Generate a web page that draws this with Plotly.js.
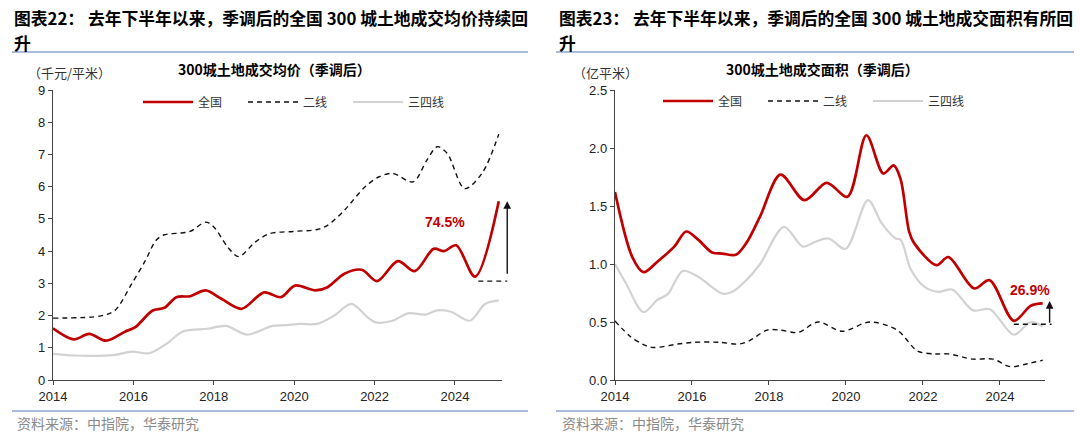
<!DOCTYPE html>
<html>
<head>
<meta charset="utf-8">
<script src="https://cdn.plot.ly/plotly-3.0.1.min.js"></script>
<style>
  html, body { margin: 0; padding: 0; background: #ffffff; }
  #chart { width: 1080px; height: 437px; }
</style>
</head>
<body>
<div id="chart"></div>
<script>
// ---------- Left panel: 300城土地成交均价（千元/平米） ----------
const priceNationalT = [2014.0, 2014.51, 2014.9, 2015.32, 2015.79, 2016.05, 2016.47, 2016.77, 2017.07, 2017.41, 2017.8, 2018.18, 2018.69, 2019.25, 2019.67, 2020.02, 2020.53, 2020.83, 2021.25, 2021.68, 2022.06, 2022.58, 2023.0, 2023.47, 2023.73, 2024.03, 2024.5, 2025.09];
const priceNational  = [1.6, 1.26, 1.43, 1.22, 1.5, 1.64, 2.15, 2.24, 2.57, 2.6, 2.78, 2.53, 2.21, 2.72, 2.57, 2.93, 2.78, 2.88, 3.3, 3.42, 3.07, 3.69, 3.38, 4.07, 4.0, 4.18, 3.21, 5.55];

const priceTier2T = [2014.0, 2015.19, 2015.54, 2015.96, 2016.3, 2016.56, 2016.75, 2017.16, 2017.41, 2017.8, 2018.0, 2018.35, 2018.62, 2019.03, 2019.38, 2019.97, 2020.57, 2020.83, 2021.25, 2021.76, 2022.1, 2022.45, 2022.96, 2023.3, 2023.56, 2023.81, 2024.24, 2024.67, 2025.09];
const priceTier2  = [1.92, 1.99, 2.16, 2.99, 3.71, 4.33, 4.5, 4.56, 4.61, 4.9, 4.75, 4.12, 3.83, 4.28, 4.54, 4.61, 4.67, 4.8, 5.27, 5.99, 6.3, 6.41, 6.15, 6.82, 7.24, 7.03, 5.94, 6.41, 7.63];

const priceTier34T = [2014.0, 2014.51, 2015.54, 2015.96, 2016.39, 2016.82, 2017.24, 2017.84, 2018.31, 2018.82, 2019.46, 2019.8, 2020.14, 2020.57, 2021.0, 2021.42, 2021.85, 2022.02, 2022.45, 2022.83, 2023.26, 2023.56, 2023.9, 2024.37, 2024.75, 2025.09];
const priceTier34  = [0.81, 0.76, 0.78, 0.88, 0.83, 1.12, 1.51, 1.59, 1.68, 1.41, 1.68, 1.7, 1.74, 1.74, 2.0, 2.36, 1.92, 1.79, 1.84, 2.07, 2.03, 2.16, 2.12, 1.84, 2.36, 2.47];

const priceRefLine = {t: [2024.58, 2025.3], v: [3.07, 3.07]};
const priceArrow = {t: 2025.3, from: 3.25, to: 5.55};
const priceLabel = {t: 2023.74, v: 4.9, text: "74.5%"};

// ---------- Right panel: 300城土地成交面积（亿平米） ----------
const areaNationalT = [2014.0, 2014.45, 2014.74, 2015.1, 2015.54, 2015.85, 2016.16, 2016.52, 2016.79, 2017.14, 2017.41, 2017.77, 2018.3, 2018.92, 2019.5, 2020.04, 2020.53, 2020.97, 2021.24, 2021.42, 2021.64, 2021.77, 2022.35, 2022.66, 2023.33, 2023.73, 2024.36, 2024.8, 2025.11];
const areaNational  = [1.62, 1.06, 0.93, 1.02, 1.15, 1.28, 1.21, 1.10, 1.09, 1.08, 1.18, 1.41, 1.77, 1.55, 1.70, 1.58, 2.11, 1.78, 1.85, 1.73, 1.28, 1.18, 0.99, 1.06, 0.79, 0.86, 0.51, 0.64, 0.66];

const areaTier2T = [2014.0, 2014.38, 2014.74, 2015.0, 2015.63, 2016.07, 2016.7, 2017.23, 2017.5, 2017.95, 2018.3, 2018.75, 2019.28, 2019.9, 2020.62, 2021.33, 2021.86, 2022.31, 2022.66, 2023.29, 2023.82, 2024.27, 2024.71, 2025.11];
const areaTier2  = [0.51, 0.38, 0.305, 0.28, 0.31, 0.325, 0.325, 0.31, 0.34, 0.43, 0.43, 0.41, 0.50, 0.42, 0.50, 0.43, 0.25, 0.225, 0.225, 0.18, 0.18, 0.115, 0.14, 0.17];

const areaTier34T = [2014.0, 2014.29, 2014.74, 2015.1, 2015.37, 2015.76, 2016.16, 2016.79, 2017.05, 2017.41, 2017.77, 2018.39, 2018.88, 2019.19, 2019.55, 2019.99, 2020.57, 2020.93, 2021.29, 2021.42, 2021.69, 2022.05, 2022.4, 2022.76, 2023.3, 2023.74, 2024.36, 2024.8, 2025.11];
const areaTier34  = [1.0, 0.83, 0.585, 0.69, 0.74, 0.94, 0.89, 0.745, 0.76, 0.86, 1.0, 1.32, 1.15, 1.19, 1.22, 1.13, 1.55, 1.35, 1.22, 1.21, 0.95, 0.80, 0.76, 0.78, 0.60, 0.61, 0.39, 0.50, 0.46];

const areaRefLine = {t: [2024.36, 2025.34], v: [0.48, 0.48]};
const areaArrow = {t: 2025.29, from: 0.48, to: 0.68};
const areaLabel = {t: 2024.78, v: 0.78, text: "26.9%"};

// ---------- Axis / text ----------
const xTickVals = [2014, 2016, 2018, 2020, 2022, 2024];
const xTickText = ["2014", "2016", "2018", "2020", "2022", "2024"];
const xRange = [2014, 2025.17];
const seriesNames = ["全国", "二线", "三四线"];

// ---------- Styling ----------
const W = 1080, H = 437;
const RED = "#C00000", BLACK = "#111111", GRAY = "#D2D2D2", RULE = "#8DA6CE";
const CJK = "'Noto Sans CJK SC', 'Noto Sans', sans-serif";
const NUM = "'Liberation Sans', Arial, sans-serif";

const plotTop = 90, plotBottom = 380;
const L = {x0: 53, x1: 502, ext: 520};
const R = {x0: 615, x1: 1045, ext: 1062};
const px2fx = p => p / W;
const px2fy = p => 1 - p / H;
const yDom = [px2fy(plotBottom), px2fy(plotTop)];
function extRange(P) {
  const span = xRange[1] - xRange[0];
  return [xRange[0], xRange[0] + span * (P.ext - P.x0) / (P.x1 - P.x0)];
}

function lineTrace(x, y, name, style, xa, ya, legend, showlegend) {
  return {
    type: "scatter", mode: "lines", x: x, y: y, name: name,
    line: Object.assign({shape: "spline", smoothing: 0.9}, style),
    xaxis: xa, yaxis: ya, legend: legend, showlegend: showlegend,
    hoverinfo: "skip"
  };
}
const sRed = {color: RED, width: 2.7};
const sDash = {color: BLACK, width: 1.4, dash: "5px,4px"};
const sGray = {color: GRAY, width: 2.2};

const traces = [
  lineTrace(priceNationalT, priceNational, seriesNames[0], sRed, "x", "y", "legend", true),
  lineTrace(priceTier2T, priceTier2, seriesNames[1], sDash, "x", "y", "legend", true),
  lineTrace(priceTier34T, priceTier34, seriesNames[2], sGray, "x", "y", "legend", true),
  lineTrace(areaNationalT, areaNational, seriesNames[0], sRed, "x2", "y2", "legend2", true),
  lineTrace(areaTier2T, areaTier2, seriesNames[1], sDash, "x2", "y2", "legend2", true),
  lineTrace(areaTier34T, areaTier34, seriesNames[2], sGray, "x2", "y2", "legend2", true),
  {type: "scatter", mode: "lines", x: priceRefLine.t, y: priceRefLine.v, xaxis: "x3", yaxis: "y",
   line: {color: BLACK, width: 1.4, dash: "5px,4px"}, showlegend: false, hoverinfo: "skip"},
  {type: "scatter", mode: "lines", x: areaRefLine.t, y: areaRefLine.v, xaxis: "x4", yaxis: "y2",
   line: {color: BLACK, width: 1.4, dash: "5px,4px"}, showlegend: false, hoverinfo: "skip"}
];

function xAxis(P, anchor) {
  return {
    domain: [px2fx(P.x0), px2fx(P.x1)], range: xRange, anchor: anchor,
    tickmode: "array", tickvals: xTickVals, ticktext: xTickText,
    showline: true, linecolor: "#444", linewidth: 1.2,
    ticks: "outside", ticklen: 4, tickcolor: "#444",
    showgrid: false, zeroline: false, automargin: false,
    tickfont: {family: NUM, size: 13, color: "#222"}
  };
}
function yAxis(anchor, range, dtick, fmt) {
  return {
    domain: yDom, range: range, anchor: anchor, dtick: dtick, tick0: 0, tickformat: fmt,
    showline: true, linecolor: "#444", linewidth: 1.2,
    ticks: "outside", ticklen: 4, tickcolor: "#444",
    showgrid: false, zeroline: false, automargin: false,
    tickfont: {family: NUM, size: 13, color: "#222"}
  };
}
function extAxis(P, anchor) {
  return {domain: [px2fx(P.x0), px2fx(P.ext)], range: extRange(P), anchor: anchor,
          visible: false, showgrid: false, zeroline: false, fixedrange: true};
}

function txt(x, y, text, size, opts) {
  return Object.assign({
    xref: "paper", yref: "paper", x: px2fx(x), y: px2fy(y), text: text,
    showarrow: false, xanchor: "left", yanchor: "middle",
    font: {family: CJK, size: size, color: "#000"}
  }, opts || {});
}

const annotations = [
  txt(12, 18, "<b>图表22： 去年下半年以来，季调后的全国 300 城土地成交均价持续回</b>", 16.8),
  txt(12, 43, "<b>升</b>", 16.8),
  txt(557, 18, "<b>图表23： 去年下半年以来，季调后的全国 300 城土地成交面积有所回</b>", 16.8),
  txt(557, 43, "<b>升</b>", 16.8),
  txt(274, 69, "<b>300城土地成交均价（季调后）</b>", 14, {xanchor: "center"}),
  txt(822, 69, "<b>300城土地成交面积（季调后）</b>", 14, {xanchor: "center"}),
  txt(26, 72, "（千元/平米）", 13, {font: {family: CJK, size: 13, color: "#333"}}),
  txt(571, 72, "（亿平米）", 13, {font: {family: CJK, size: 13, color: "#333"}}),
  txt(15, 423, "资料来源：中指院，华泰研究", 14, {font: {family: CJK, size: 14, color: "#8a8a8a"}}),
  txt(560, 423, "资料来源：中指院，华泰研究", 14, {font: {family: CJK, size: 14, color: "#8a8a8a"}}),
  {xref: "x", yref: "y", x: priceLabel.t, y: priceLabel.v, text: "<b>" + priceLabel.text + "</b>",
   showarrow: false, font: {family: NUM, size: 14, color: RED}},
  {xref: "x2", yref: "y2", x: areaLabel.t, y: areaLabel.v, text: "<b>" + areaLabel.text + "</b>",
   showarrow: false, font: {family: NUM, size: 14, color: RED}},
  {xref: "x3", yref: "y", x: priceArrow.t, y: priceArrow.to, axref: "x3", ayref: "y",
   ax: priceArrow.t, ay: priceArrow.from, text: "", showarrow: true,
   arrowhead: 2, arrowsize: 1.1, arrowwidth: 1.4, arrowcolor: BLACK, standoff: 0, startstandoff: 0},
  {xref: "x4", yref: "y2", x: areaArrow.t, y: areaArrow.to, axref: "x4", ayref: "y2",
   ax: areaArrow.t, ay: areaArrow.from, text: "", showarrow: true,
   arrowhead: 2, arrowsize: 1.1, arrowwidth: 1.4, arrowcolor: BLACK, standoff: 0, startstandoff: 0}
];

function rule(x0, x1, y) {
  return {type: "line", xref: "paper", yref: "paper", x0: px2fx(x0), x1: px2fx(x1),
          y0: px2fy(y), y1: px2fy(y), line: {color: RULE, width: 1.5}};
}
const shapes = [rule(12, 528, 52), rule(556, 1074, 52), rule(12, 528, 411), rule(556, 1074, 411)];

function legend(x, y) {
  return {
    orientation: "h", x: px2fx(x), y: px2fy(y), xanchor: "left", yanchor: "middle",
    font: {family: CJK, size: 12, color: "#333"},
    bgcolor: "rgba(0,0,0,0)", borderwidth: 0,
    itemwidth: 50, entrywidth: 40, entrywidthmode: "pixels",
    tracegroupgap: 0, itemclick: false, itemdoubleclick: false
  };
}

const layout = {
  width: W, height: H,
  margin: {l: 0, r: 0, t: 0, b: 0, pad: 0, autoexpand: false},
  paper_bgcolor: "#ffffff", plot_bgcolor: "rgba(0,0,0,0)",
  showlegend: true,
  xaxis: xAxis(L, "y"), yaxis: yAxis("x", [0, 9], 1, "d"),
  xaxis2: xAxis(R, "y2"), yaxis2: yAxis("x2", [0, 2.5], 0.5, ".1f"),
  xaxis3: extAxis(L, "y"), xaxis4: extAxis(R, "y2"),
  legend: legend(138, 102),
  legend2: legend(658, 101),
  annotations: annotations,
  shapes: shapes
};

Plotly.newPlot("chart", traces, layout, {displayModeBar: false, staticPlot: true});
</script>
</body>
</html>
